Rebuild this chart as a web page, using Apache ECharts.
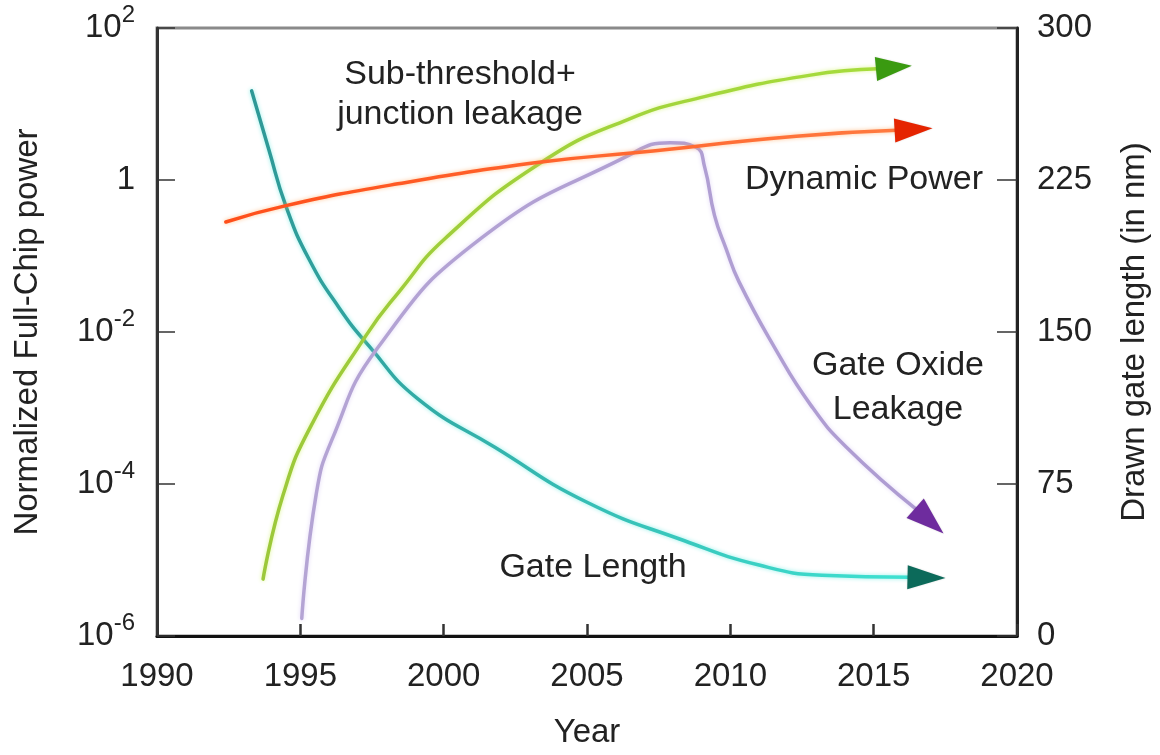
<!DOCTYPE html>
<html>
<head>
<meta charset="utf-8">
<script src="https://cdn.jsdelivr.net/npm/echarts@6/dist/echarts.min.js"></script>
<style>
  html, body { margin: 0; padding: 0; background: #ffffff; }
  #chart { width: 1160px; height: 755px; }
</style>
</head>
<body>
<div id="chart"></div>
<script>
const FONT = '"Liberation Sans", Arial, Helvetica, sans-serif';
const TEXT = '#222222';

// Axis ranges / ticks
const yearRange = [1990, 2020];
const yearStep = 5;
const powerRange = [1e-6, 100];      // normalized full-chip power (log)
const gateRange = [0, 300];          // drawn gate length, nm
const gateStep = 75;

// Sub-threshold + junction leakage (normalized power)
const subYears = [1993.7, 1994.4, 1995.35, 1997.3, 1998.45, 2000.05, 2003.4, 2006.4, 2009.1, 2012.8, 2015.15];
const subPower = [5.6e-6, 7.2e-5, 5.6e-4, 9.1e-3, 0.034, 0.17, 1.7, 6.2, 12.5, 24, 29];

// Dynamic power (normalized power)
const dynYears = [1992.4, 1994.5, 1998.4, 2003.4, 2006.75, 2012.3, 2015.8];
const dynPower = [0.28, 0.46, 0.89, 1.72, 2.3, 3.76, 4.5];

// Gate oxide leakage (normalized power)
const oxYears = [1995.05, 1995.55, 1996.1, 1997.7, 2001.3, 2006.4, 2007.9, 2008.8, 2009.1, 2009.45, 2009.85, 2010.3, 2011.55, 2012.8, 2014.05, 2016.5];
const oxPower = [1.7e-6, 7.2e-5, 3.8e-4, 6.2e-3, 0.17, 2.06, 3.1, 2.7, 1.5, 0.34, 0.125, 0.046, 6.2e-3, 1.1e-3, 3.05e-4, 4.6e-5];

// Drawn gate length (nm)
const gateYears = [1993.3, 1993.9, 1994.5, 1995.3, 1996.35, 1997.4, 1999.1, 2001.8, 2005.0, 2008.4, 2011.0, 2013.2, 2016.25];
const gateLength = [269, 240, 212, 186, 162, 143, 117, 93, 66, 47, 35, 30, 29];

const pairs = (xs, ys) => xs.map((x, i) => [x, ys[i]]);

const chart = echarts.init(document.getElementById('chart'), null, { renderer: 'canvas' });

function grad(c0, c1) {
  return new echarts.graphic.LinearGradient(0, 0, 1, 0, [
    { offset: 0, color: c0 }, { offset: 1, color: c1 }
  ]);
}

function curve(name, xs, ys, yAxisIndex, color, glow) {
  return {
    name, type: 'line', yAxisIndex,
    data: pairs(xs, ys),
    smooth: 0.5,
    showSymbol: false, symbol: 'none',
    lineStyle: { width: 3.5, color, shadowColor: glow, shadowBlur: 4, cap: 'round' },
    silent: true, z: 3
  };
}

// Power-of-ten labels with superscript exponent
function powerLabel(v) {
  const e = Math.round(Math.log10(v));
  if (e === 0) return '{m|1}';
  return '{m|10}{s|' + e + '}';
}

const option = {
  backgroundColor: '#ffffff',
  animation: false,
  grid: {
    left: 157, right: 138, top: 28, bottom: 115,
    show: true, borderColor: '#8a8a8a', borderWidth: 3, backgroundColor: 'transparent'
  },
  xAxis: {
    type: 'value', min: yearRange[0], max: yearRange[1], interval: yearStep,
    name: 'Year', nameLocation: 'middle', nameGap: 80,
    nameTextStyle: { fontFamily: FONT, fontSize: 33, color: TEXT, lineHeight: 34 },
    axisLine: { show: true, lineStyle: { color: '#111', width: 3 } },
    axisTick: { show: true, inside: true, length: 12, lineStyle: { color: '#333', width: 2.5 } },
    axisLabel: { formatter: v => String(v), fontFamily: FONT, fontSize: 33, color: TEXT, margin: 24 },
    splitLine: { show: false }
  },
  yAxis: [
    {
      type: 'log', logBase: 10, min: powerRange[0], max: powerRange[1], interval: 2, splitNumber: 4,
      position: 'left',
      name: 'Normalized Full-Chip power', nameLocation: 'middle', nameGap: 112, nameRotate: 90,
      nameTextStyle: { fontFamily: FONT, fontSize: 33, color: TEXT, lineHeight: 34 },
      axisLine: { show: true, lineStyle: { color: '#333', width: 3 } },
      axisTick: { show: true, inside: true, length: 18, lineStyle: { color: '#333', width: 1.5 } },
      axisLabel: {
        formatter: powerLabel, margin: 22,
        rich: {
          m: { fontFamily: FONT, fontSize: 33, color: TEXT, lineHeight: 50 },
          s: { fontFamily: FONT, fontSize: 24, color: TEXT, lineHeight: 24, verticalAlign: 'top' }
        }
      },
      minorTick: { show: false },
      splitLine: { show: false }
    },
    {
      type: 'value', min: gateRange[0], max: gateRange[1], interval: gateStep,
      position: 'right',
      name: 'Drawn gate length (in nm)', nameLocation: 'middle', nameGap: 101, nameRotate: 90,
      nameTextStyle: { fontFamily: FONT, fontSize: 33, color: TEXT, lineHeight: 34 },
      axisLine: { show: true, lineStyle: { color: '#222', width: 3 } },
      axisTick: { show: true, inside: true, length: 20, lineStyle: { color: '#333', width: 1.5 } },
      axisLabel: { fontFamily: FONT, fontSize: 33, color: TEXT, margin: 20 },
      splitLine: { show: false }
    }
  ],
  series: [
    curve('Gate Length', gateYears, gateLength, 1, grad('#2e9896', '#3ee2d2'), 'rgba(80,230,220,0.6)'),
    curve('Sub-threshold+ junction leakage', subYears, subPower, 0, grad('#9cc83a', '#a6dc3c'), 'rgba(200,240,80,0.6)'),
    curve('Gate Oxide Leakage', oxYears, oxPower, 0, grad('#b4a4d4', '#ae9cd2'), 'rgba(200,180,240,0.5)'),
    curve('Dynamic Power', dynYears, dynPower, 0, grad('#ff4e1a', '#ff7a40'), 'rgba(255,160,80,0.6)')
  ]
};

chart.setOption(option);

// Arrow heads at the end of every curve, pointing along the last segment
function arrowHead(xs, ys, yAxisIndex, color, len, wid) {
  const n = xs.length;
  const finder = { xAxisIndex: 0, yAxisIndex };
  const a = chart.convertToPixel(finder, [xs[n - 2], ys[n - 2]]);
  const b = chart.convertToPixel(finder, [xs[n - 1], ys[n - 1]]);
  const dx = b[0] - a[0], dy = b[1] - a[1];
  const d = Math.hypot(dx, dy) || 1;
  const ux = dx / d, uy = dy / d, px = -uy, py = ux;
  const tip = [b[0] + ux * len, b[1] + uy * len];
  const back = [b[0] - ux * 2, b[1] - uy * 2];
  return {
    type: 'polygon', silent: true, z: 50,
    shape: { points: [tip, [back[0] + px * wid / 2, back[1] + py * wid / 2], [back[0] - px * wid / 2, back[1] - py * wid / 2]] },
    style: { fill: color, shadowColor: 'rgba(0,0,0,0.15)', shadowBlur: 2 }
  };
}

function note(text, x, y, lineHeight) {
  return {
    type: 'text', x, y, silent: true, z: 60,
    style: {
      text, fill: TEXT, font: '34px ' + FONT,
      align: 'center', verticalAlign: 'middle', lineHeight: lineHeight || 34
    }
  };
}

chart.setOption({
  graphic: [
    arrowHead(subYears, subPower, 0, '#3a9a10', 34, 24),
    arrowHead(dynYears, dynPower, 0, '#e52400', 36, 24),
    arrowHead(oxYears, oxPower, 0, '#6e2c9e', 36, 26),
    arrowHead(gateYears, gateLength, 1, '#0c6a5a', 36, 24),
    note('Sub-threshold+\njunction leakage', 460, 95, 40),
    note('Dynamic Power', 864, 180),
    note('Gate Oxide\nLeakage', 898, 388, 44),
    note('Gate Length', 593, 568)
  ]
});
</script>
</body>
</html>
